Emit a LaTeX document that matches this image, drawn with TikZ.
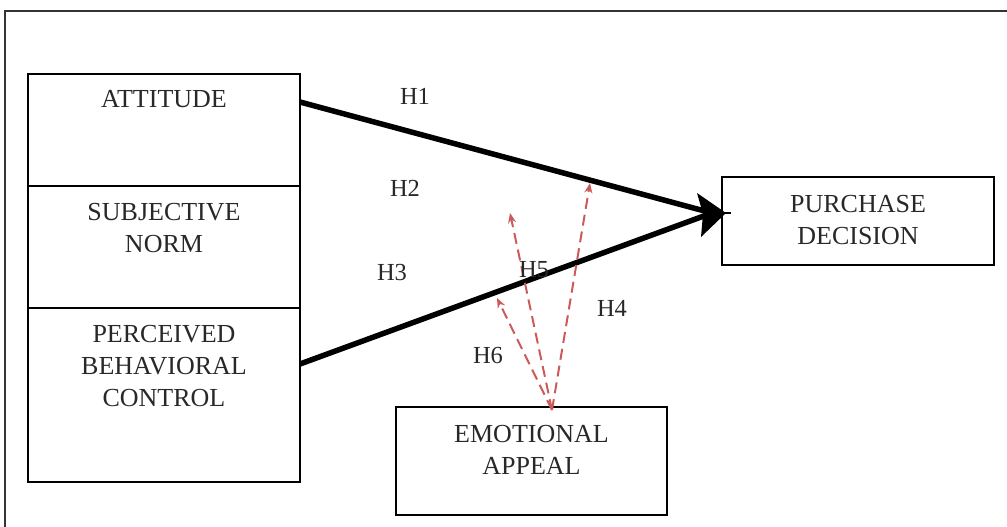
\documentclass[tikz,border=0pt]{standalone}
\usepackage{fontspec}
\setmainfont{Liberation Serif}
\usetikzlibrary{arrows.meta}
\definecolor{txtgray}{RGB}{40,40,40}
\definecolor{dashred}{RGB}{205,90,90}
\begin{document}
\begin{tikzpicture}[x=1pt,y=-1pt,
  box/.style={draw=black,line width=1.8pt,inner sep=0pt},
  lbl/.style={text=txtgray,font=\fontsize{26}{32}\selectfont,align=center,inner sep=0pt},
  hyp/.style={text=txtgray,font=\fontsize{24.5}{28}\selectfont,inner sep=0pt},
  mainline/.style={line width=5.5pt},
  modarrow/.style={draw=dashred,line width=2pt,dash pattern=on 11pt off 6pt,-{Stealth[length=10pt,width=8pt]}}]
\useasboundingbox (0,0) rectangle (1007,527);
% outer frame
\draw[line width=2pt,black!80] (5,527) -- (5,11) -- (1007,11);
% left column boxes
\node[box,minimum width=272pt,minimum height=112pt] (att) at (164,130) {};
\node[box,minimum width=272pt,minimum height=122pt] (sn) at (164,247) {};
\node[box,minimum width=272pt,minimum height=174pt] (pbc) at (164,395) {};
\node[lbl] (attt) at (164,99) {ATTITUDE};
\node[lbl] (snt) at (164,228) {SUBJECTIVE\\NORM};
\node[lbl] (pbct) at (164,366) {PERCEIVED\\BEHAVIORAL\\CONTROL};
% purchase decision
\node[box,minimum width=272pt,minimum height=88pt] (pd) at (858,221) {};
\node[lbl] (pdt) at (858,220) {PURCHASE\\DECISION};
% emotional appeal
\node[box,minimum width=271pt,minimum height=108pt] (ea) at (531.5,461) {};
\node[lbl] (eat) at (531.5,450) {EMOTIONAL\\APPEAL};
% main arrows
\coordinate (s1) at (300,102);
\coordinate (s3) at (300,364);
\coordinate (tip) at (712,213);
\draw[mainline] (s1) -- (tip);
\draw[mainline] (s3) -- (tip);
\fill[black] (697,193) -- (726,213) -- (701,237) -- (703,214) -- cycle;
\draw[line width=2.5pt] (tip) -- (731,213);
% moderation arrows
\coordinate (eo) at (552,410);
\coordinate (m4) at (590,183);
\coordinate (m5) at (510,213);
\coordinate (m6) at (497,298);
\draw[modarrow] (eo) -- (m4);
\draw[modarrow] (eo) -- (m5);
\draw[modarrow] (eo) -- (m6);
% hypothesis labels
\node[hyp] (h1) at (415,96) {H1};
\node[hyp] (h2) at (405,188) {H2};
\node[hyp] (h3) at (392,273) {H3};
\node[hyp] (h5) at (534,270) {H5};
\node[hyp] (h4) at (612,308) {H4};
\node[hyp] (h6) at (488,356) {H6};
\end{tikzpicture}
\end{document}
